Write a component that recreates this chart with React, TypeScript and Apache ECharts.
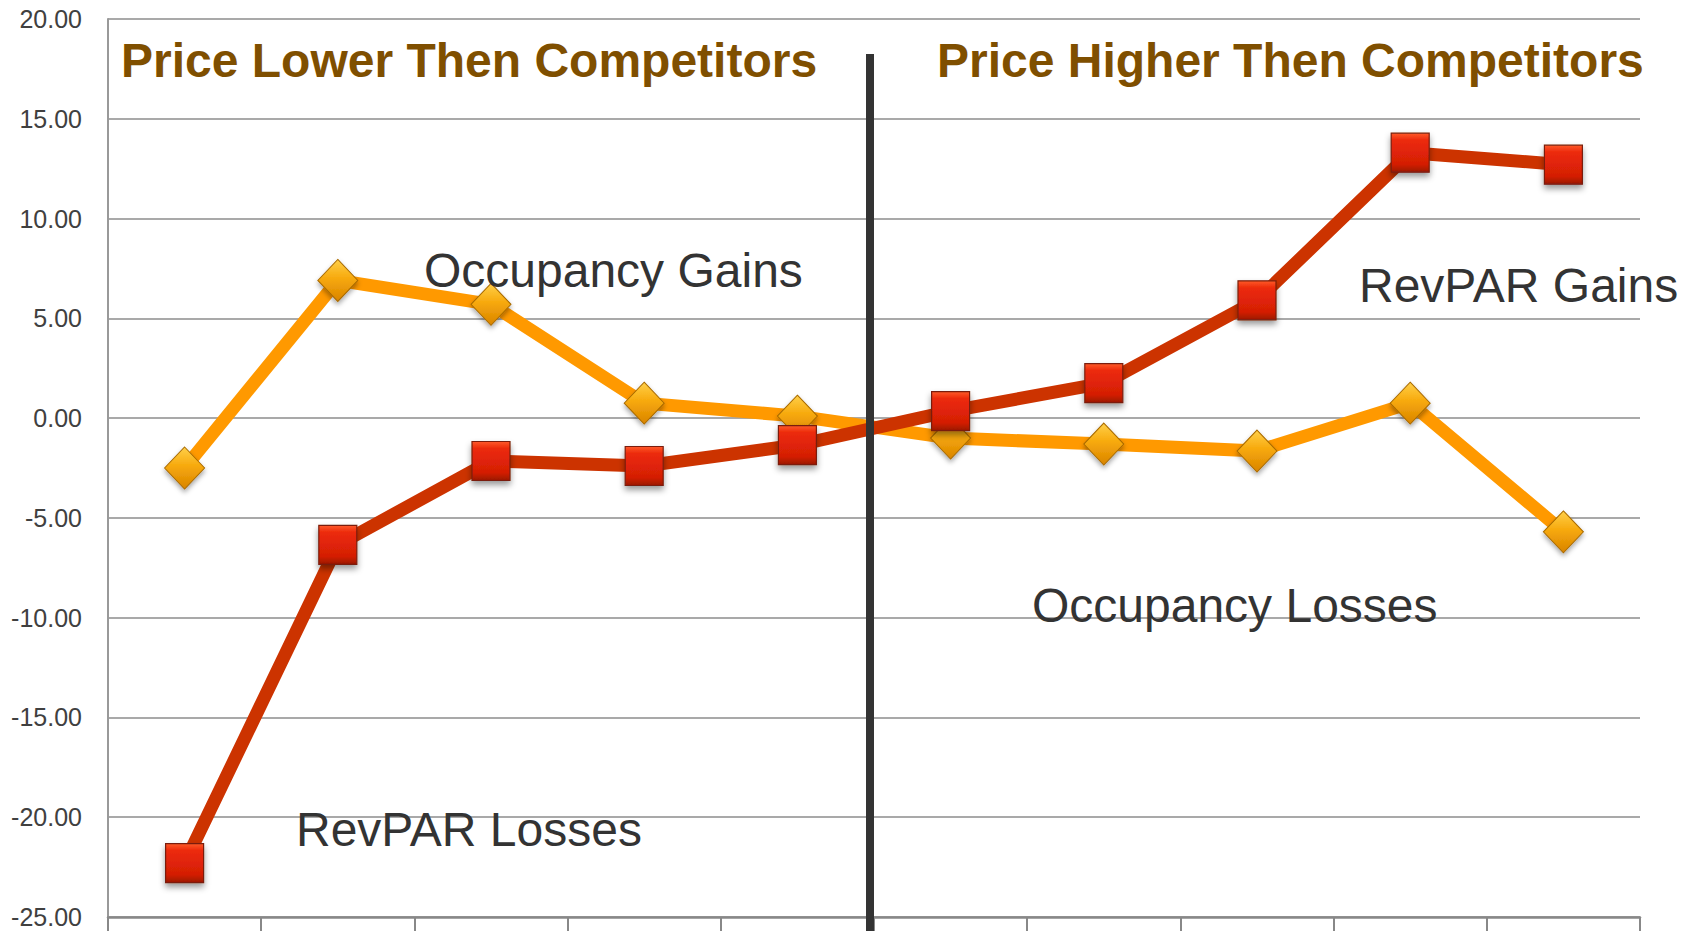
import React, { useEffect, useRef } from "react";
import * as echarts from "echarts";

const categories = ["1", "2", "3", "4", "5", "6", "7", "8", "9", "10"];
const occupancy = [-2.5, 6.9, 5.7, 0.75, 0.1, -1.0, -1.3, -1.65, 0.75, -5.7];
const revpar = [-22.3, -6.35, -2.15, -2.4, -1.35, 0.35, 1.75, 5.9, 13.3, 12.7];
const yMin = -25;
const yMax = 20;
const yStep = 5;

const leftTitle = "Price Lower Then Competitors";
const rightTitle = "Price Higher Then Competitors";
const notes = [
  { text: "Occupancy Gains", x: 424, y: 270 },
  { text: "RevPAR Gains", x: 1359, y: 285 },
  { text: "Occupancy Losses", x: 1032, y: 605 },
  { text: "RevPAR Losses", x: 296, y: 829 },
];

const FONT = "Arial, 'Liberation Sans', Helvetica, sans-serif";

export default function App() {
  const ref = useRef<HTMLDivElement>(null);
  useEffect(() => {
    if (!ref.current) return;
    const chart = echarts.init(ref.current, null, { renderer: "svg" });
    const squareFill = new echarts.graphic.LinearGradient(0, 0, 0, 1, [
      { offset: 0, color: "#ff5a2a" },
      { offset: 0.18, color: "#ec2a0a" },
      { offset: 0.8, color: "#d41e05" },
      { offset: 1, color: "#9a1806" },
    ]);
    const diamondFill = new echarts.graphic.LinearGradient(0, 0, 0, 1, [
      { offset: 0, color: "#ffd04a" },
      { offset: 0.45, color: "#f7a90c" },
      { offset: 1, color: "#d98400" },
    ]);
    const option: any = {
      animation: false,
      backgroundColor: "#ffffff",
      grid: { left: 108, right: 45, top: 19, bottom: 14, containLabel: false },
      xAxis: {
        type: "category",
        data: categories,
        boundaryGap: true,
        axisLabel: { show: false },
        axisLine: { show: true, onZero: false, lineStyle: { color: "#888888", width: 2.5 } },
        axisTick: { show: true, length: 16, lineStyle: { color: "#888888", width: 2 } },
        splitLine: { show: false },
      },
      yAxis: {
        type: "value",
        min: yMin,
        max: yMax,
        interval: yStep,
        axisLine: { show: true, lineStyle: { color: "#999999", width: 2 } },
        axisTick: { show: false },
        axisLabel: {
          formatter: (v: number) => v.toFixed(2),
          fontFamily: FONT,
          fontSize: 25,
          color: "#404040",
          margin: 26,
        },
        splitLine: { show: true, lineStyle: { color: "#8c8c8c", width: 1.5 } },
      },
      series: [
        {
          name: "Occupancy",
          type: "line",
          z: 2,
          data: occupancy,
          symbol: "diamond",
          symbolSize: [40, 42],
          lineStyle: { color: "#ff9900", width: 13 },
          itemStyle: {
            color: diamondFill,
            borderColor: "#a86a00",
            borderWidth: 1,
            shadowColor: "rgba(0,0,0,0.35)",
            shadowBlur: 5,
            shadowOffsetY: 3,
          },
        },
        {
          name: "RevPAR",
          type: "line",
          z: 3,
          data: revpar,
          symbol: "rect",
          symbolSize: [38, 39],
          lineStyle: { color: "#cc3300", width: 13 },
          itemStyle: {
            color: squareFill,
            borderColor: "#7a1e0a",
            borderWidth: 1.2,
            shadowColor: "rgba(0,0,0,0.4)",
            shadowBlur: 6,
            shadowOffsetY: 4,
          },
        },
      ],
      graphic: [
        {
          type: "rect",
          z: 10,
          shape: { x: 866, y: 54, width: 8, height: 877 },
          style: { fill: "#333333" },
        },
        {
          type: "text",
          z: 10,
          x: 121,
          y: 60,
          style: {
            text: leftTitle,
            fontFamily: FONT,
            fontWeight: "bold",
            fontSize: 48,
            fill: "#7f4f00",
            verticalAlign: "middle",
            align: "left",
          },
        },
        {
          type: "text",
          z: 10,
          x: 937,
          y: 60,
          style: {
            text: rightTitle,
            fontFamily: FONT,
            fontWeight: "bold",
            fontSize: 48,
            fill: "#7f4f00",
            verticalAlign: "middle",
            align: "left",
          },
        },
        ...notes.map((n) => ({
          type: "text",
          z: 10,
          x: n.x,
          y: n.y,
          style: {
            text: n.text,
            fontFamily: FONT,
            fontSize: 48,
            fill: "#333333",
            verticalAlign: "middle",
            align: "left",
          },
        })),
      ],
    };
    chart.setOption(option);
    return () => chart.dispose();
  }, []);
  return (
    <div
      ref={ref}
      style={{ position: "fixed", left: 0, top: 0, width: 1685, height: 931, background: "#fff" }}
    />
  );
}
